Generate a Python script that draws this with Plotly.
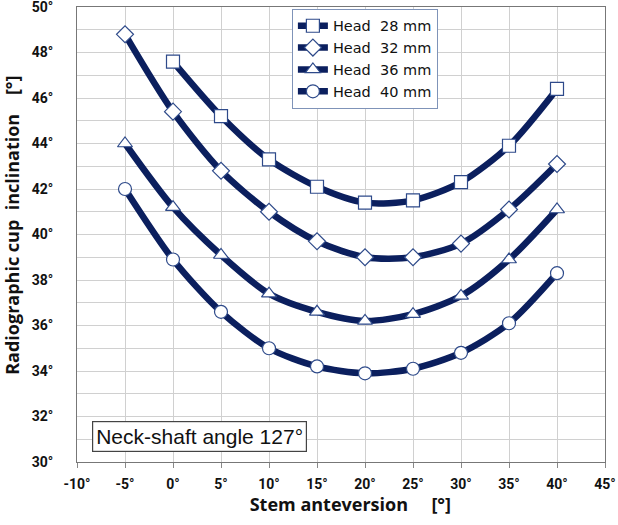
import plotly.graph_objects as go

# ── Data ─────────────────────────────────────────────────────────────────────
anteversion = [-5, 0, 5, 10, 15, 20, 25, 30, 35, 40]

head_28 = [None, 47.6, 45.2, 43.3, 42.1, 41.4, 41.5, 42.3, 43.9, 46.4]
head_32 = [48.8, 45.4, 42.8, 41.0, 39.7, 39.0, 39.0, 39.6, 41.1, 43.1]
head_36 = [44.0, 41.2, 39.1, 37.4, 36.6, 36.2, 36.5, 37.3, 38.9, 41.1]
head_40 = [42.0, 38.9, 36.6, 35.0, 34.2, 33.9, 34.1, 34.8, 36.1, 38.3]

series_names = ["Head\u00a0\u00a028 mm", "Head\u00a0\u00a032 mm",
                "Head\u00a0\u00a036 mm", "Head\u00a0\u00a040 mm"]
series_values = [head_28, head_32, head_36, head_40]
symbols = ["square", "diamond", "triangle-up", "circle"]
sizes = [13, 13, 13, 13]

x_ticks = list(range(-10, 46, 5))
y_ticks = list(range(30, 51, 2))

NAVY = "#0B1F5E"
MARK_LINE = "#2E4A8A"
GRID = "#D0D0D0"
FONT = "Open Sans, DejaVu Sans, sans-serif"
TICK_FONT = "Roboto, Open Sans, sans-serif"

fig = go.Figure()
for name, vals, sym, sz in zip(series_names, series_values, symbols, sizes):
    fig.add_trace(go.Scatter(
        x=anteversion, y=vals, name=name,
        mode="lines+markers",
        line=dict(color=NAVY, width=6.5, shape="spline", smoothing=0.8),
        marker=dict(symbol=sym, size=sz, color="white",
                    line=dict(color=MARK_LINE, width=1.2)),
        connectgaps=False,
    ))

fig.add_annotation(
    text="Neck-shaft angle 127°", xref="x", yref="y", x=-8.45, y=31.1,
    xanchor="left", yanchor="middle", showarrow=False,
    font=dict(size=21, color="#111", family="Arial, Liberation Sans, sans-serif"),
    bgcolor="white", bordercolor="#444", borderwidth=1.2, borderpad=3,
)

fig.update_layout(
    width=618, height=525,
    margin=dict(l=77, r=13, t=7, b=63, autoexpand=False),
    paper_bgcolor="white", plot_bgcolor="white",
    font=dict(family=FONT, color="#111"),
    showlegend=True,
    legend=dict(
        x=0.407, y=0.996, xanchor="left", yanchor="top",
        bgcolor="white", bordercolor="#7F93B8", borderwidth=1,
        font=dict(size=14.5, color="#111", family="DejaVu Sans, sans-serif"),
        tracegroupgap=0, itemwidth=30,
    ),
)
fig.update_xaxes(
    range=[-10, 45], tickvals=x_ticks,
    ticktext=[f"{v}°" for v in x_ticks],
    tickfont=dict(size=14, family=TICK_FONT, weight="bold"),
    ticklabeloverflow="allow", ticklabelstandoff=4,
    showgrid=True, gridcolor=GRID, gridwidth=1,
    showline=True, linecolor="#777", linewidth=1, mirror=True,
    ticks="outside", tickcolor="#888", ticklen=5,
    zeroline=False, automargin=False,
    title=dict(text="<b>\u00a0\u00a0\u00a0\u00a0Stem anteversion\u00a0\u00a0\u00a0\u00a0\u00a0[°]</b>",
               font=dict(size=18, family=FONT), standoff=4),
)
fig.update_yaxes(
    range=[30, 50], tickvals=y_ticks,
    ticktext=[f"{v}°" for v in y_ticks],
    tickfont=dict(size=14, family=TICK_FONT, weight="bold"),
    ticklabeloverflow="allow", ticklabelstandoff=20,
    showgrid=True, gridcolor=GRID, gridwidth=1,
    minor=dict(dtick=1, showgrid=True, gridcolor=GRID, gridwidth=1),
    showline=True, linecolor="#777", linewidth=1, mirror=True,
    ticks="", zeroline=False, automargin=False,
    title=dict(text="<b>\u00a0\u00a0\u00a0\u00a0Radiographic cup\u00a0\u00a0inclination\u00a0\u00a0\u00a0\u00a0[°]</b>",
               font=dict(size=18, family=FONT), standoff=8),
)

fig.write_html(
    "out.html",
    config={"displayModeBar": False},
    post_script="document.body.style.margin='0';document.body.style.overflow='hidden';",
)
